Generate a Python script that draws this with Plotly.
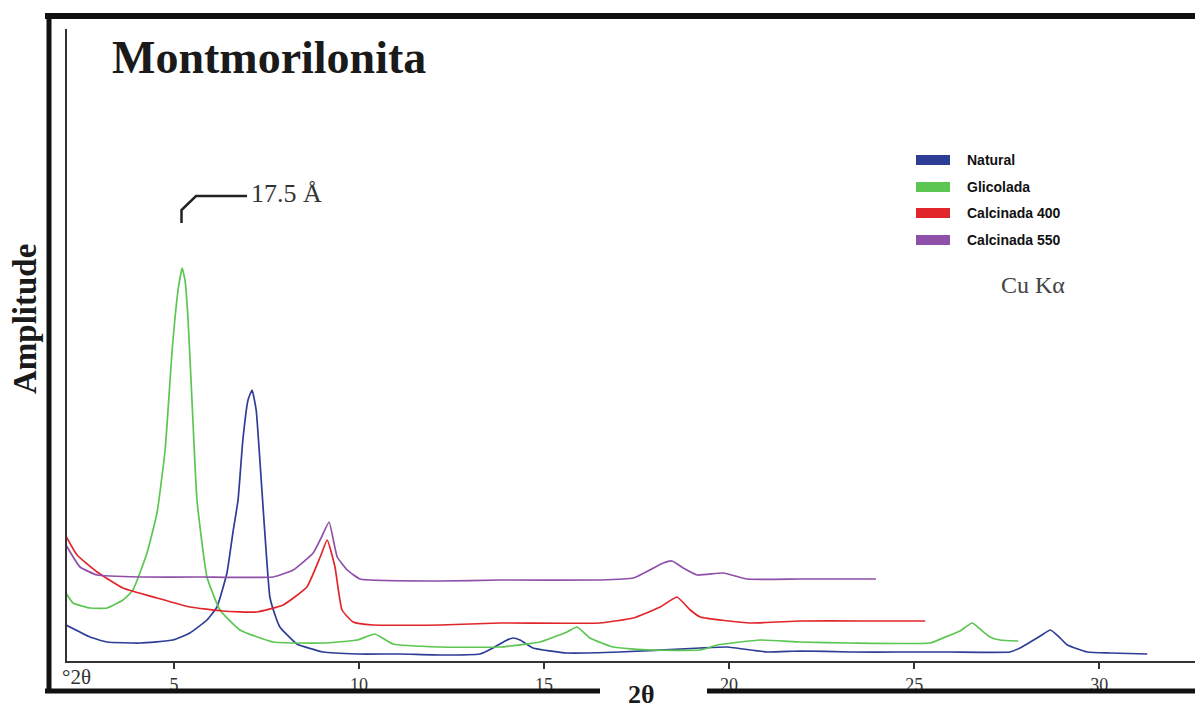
import plotly.graph_objects as go

# ---------------- data (2theta in degrees, amplitude in arbitrary units) ----------------
natural_2t = [2.08, 2.73, 3.19, 4.08, 4.97, 5.43, 5.89, 6.16, 6.43, 6.59, 6.73, 6.86, 7.00, 7.11,
              7.22, 7.32, 7.43, 7.59, 7.73, 7.86, 8.32, 9.03, 9.95, 11.11, 12.19, 13.27, 13.62,
              14.00, 14.16, 14.35, 14.70, 15.62, 17.05, 19.22, 19.95, 21.03, 21.92, 23.27, 24.62,
              25.97, 27.59, 27.86, 28.14, 28.41, 28.68, 28.89, 29.14, 29.68, 30.30, 31.30]
natural_amp = [36, 24, 19, 18, 21, 28, 41, 54, 88, 128, 161, 221, 261, 271,
               251, 201, 141, 64, 46, 34, 17, 9, 7, 7, 6, 7, 13,
               21, 23, 21, 13, 8, 9, 13, 14, 9, 10, 9, 9,
               9, 9, 13, 19, 25, 31, 25, 16, 9, 8, 7]

glicolada_2t = [2.08, 2.27, 2.73, 3.19, 3.62, 3.89, 4.27, 4.54, 4.76, 4.95, 5.11, 5.22, 5.30,
                5.38, 5.51, 5.62, 5.89, 6.24, 6.78, 7.68, 9.03, 9.95, 10.43, 10.92, 12.19,
                13.81, 14.89, 15.62, 15.89, 16.24, 16.86, 17.86, 19.22, 19.68, 20.84, 21.92,
                23.27, 25.43, 25.78, 26.24, 26.57, 26.78, 27.05, 27.32, 27.81]
glicolada_amp = [68, 58, 53, 53, 61, 71, 108, 148, 211, 311, 371, 393, 380,
                 341, 241, 161, 84, 51, 31, 19, 18, 21, 27, 17, 14,
                 14, 19, 29, 34, 23, 14, 11, 11, 16, 21, 19,
                 18, 18, 23, 30, 38, 32, 24, 21, 20]

calc400_2t = [2.08, 2.38, 2.92, 3.62, 4.54, 5.43, 6.32, 7.24, 7.95, 8.59, 8.95, 9.14, 9.35,
              9.54, 9.84, 10.38, 12.19, 13.81, 16.51, 17.41, 18.14, 18.59, 18.95, 19.22,
              20.57, 21.92, 23.54, 25.30]
calc400_amp = [125, 106, 89, 73, 63, 54, 50, 49, 56, 74, 104, 121, 94,
               51, 39, 36, 36, 38, 38, 43, 54, 64, 51, 44,
               38, 40, 40, 40]

calc550_2t = [2.08, 2.46, 2.92, 4.08, 5.70, 7.68, 8.22, 8.76, 9.00, 9.19, 9.41, 9.68, 10.03,
              12.19, 13.81, 16.51, 17.41, 18.22, 18.46, 18.76, 19.14, 19.84, 20.49, 21.92, 23.97]
calc550_amp = [116, 94, 86, 84, 84, 84, 91, 108, 125, 139, 104, 91, 82,
               80, 81, 81, 83, 98, 100, 93, 86, 88, 82, 82, 82]

series_names = ["Natural", "Glicolada", "Calcinada 400", "Calcinada 550"]
series_colors = ["#2e3d96", "#5cc652", "#e0262b", "#8e50a8"]
x_ticks = [5, 10, 15, 20, 25, 30]

# ---------------- figure ----------------
W, H = 1195, 711
L, R, T, B = 67, 0, 29, 50
PW, PH = W - L - R, H - T - B


def px(x):
    return (x - L) / PW


def py(y):
    return (H - B - y) / PH


fig = go.Figure()
data = [(natural_2t, natural_amp), (glicolada_2t, glicolada_amp),
        (calc400_2t, calc400_amp), (calc550_2t, calc550_amp)]
for (xs, ys), name, col in zip(data, series_names, series_colors):
    fig.add_trace(go.Scatter(x=xs, y=ys, mode="lines", name=name,
                             line=dict(color=col, width=1.7, shape="spline", smoothing=0.4),
                             showlegend=False))

shapes = []
frame = dict(type="line", xref="paper", yref="paper", line=dict(color="#111111", width=5))
shapes.append(dict(frame, x0=px(45), x1=px(1195), y0=py(16), y1=py(16), line=dict(color="#111111", width=6)))
shapes.append(dict(frame, x0=px(49), x1=px(49), y0=py(13), y1=py(693)))
shapes.append(dict(frame, x0=px(45), x1=px(600), y0=py(691), y1=py(691)))
shapes.append(dict(frame, x0=px(707), x1=px(1195), y0=py(691), y1=py(691)))
# bracket marking the 17.5 A reflection
path = "M {},{} L {},{} L {},{} L {},{}".format(px(181.5), py(223), px(181.5), py(210),
                                                px(196), py(196), px(247), py(196))
shapes.append(dict(type="path", xref="paper", yref="paper", path=path,
                   line=dict(color="#222222", width=2.5)))
# legend swatches
leg_y = [160, 187, 213, 240]
for yy, col in zip(leg_y, series_colors):
    shapes.append(dict(type="rect", xref="paper", yref="paper", x0=px(916), x1=px(950),
                       y0=py(yy - 5), y1=py(yy + 5), fillcolor=col, line=dict(width=0)))

ann = []


def add_text(text, x, y, size, family="Liberation Serif", color="#1a1a1a", xanchor="center", angle=0):
    ann.append(dict(text=text, x=px(x), y=py(y), xref="paper", yref="paper", showarrow=False,
                    xanchor=xanchor, yanchor="middle", textangle=angle,
                    font=dict(family=family, size=size, color=color)))


add_text("<b>Montmorilonita</b>", 110, 57, 46, xanchor="left")
add_text("<b>Amplitude</b>", 25, 319, 33, angle=-90)
add_text("<b>2θ</b>", 641, 694, 26)
add_text("°2θ", 76, 677, 21, color="#333333")
add_text("Cu Kα", 1033, 285, 24, color="#444444")
add_text("17.5 Å", 249, 194, 26, color="#333333", xanchor="left")
for yy, name in zip(leg_y, series_names):
    add_text("<b>" + name + "</b>", 965, yy, 14, family="Liberation Sans", color="#111111", xanchor="left")

fig.update_layout(
    width=W, height=H,
    margin=dict(l=L, r=R, t=T, b=B, pad=0),
    paper_bgcolor="white", plot_bgcolor="white",
    showlegend=False,
    shapes=shapes, annotations=ann,
    xaxis=dict(range=[2.108, 32.59], showgrid=False, zeroline=False, showline=True,
               linecolor="#333333", linewidth=2, ticks="outside", ticklen=6, tickwidth=1.5,
               tickcolor="#333333", tickvals=x_ticks,
               tickfont=dict(family="Liberation Serif", size=18, color="#333333")),
    yaxis=dict(range=[0, 632], showgrid=False, zeroline=False, showline=True,
               linecolor="#333333", linewidth=2, showticklabels=False, ticks=""),
)

fig.write_html("out.html")
